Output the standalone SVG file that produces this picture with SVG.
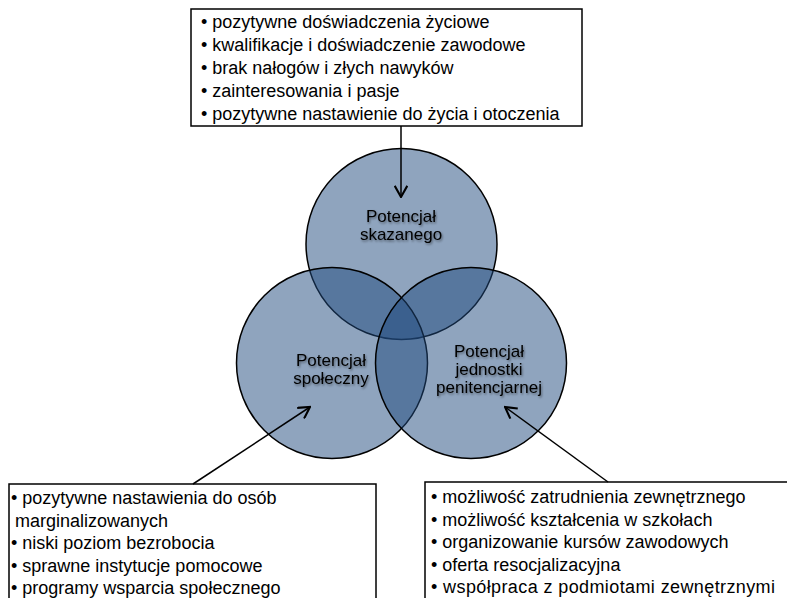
<svg xmlns="http://www.w3.org/2000/svg" width="787" height="598" viewBox="0 0 787 598">
<defs>
<style>
.circ{fill:#1F497D;fill-opacity:0.5;stroke:#000;stroke-width:1.5}
.box{fill:#fff;stroke:#000;stroke-width:1.5}
.t{font-family:"Liberation Sans",Arial,sans-serif;font-size:18px;fill:#000}
.lbl{font-family:"Liberation Sans",Arial,sans-serif;font-size:17px;fill:#000;text-anchor:middle;filter:url(#sh)}
.con{stroke:#000;stroke-width:1.5;fill:none;marker-end:url(#ah)}
</style>
<filter id="sh" x="-20%" y="-40%" width="140%" height="180%">
<feDropShadow dx="1" dy="1.5" stdDeviation="0.8" flood-color="#000" flood-opacity="0.45"/>
</filter>
<marker id="ah" markerUnits="userSpaceOnUse" markerWidth="14" markerHeight="14" refX="9" refY="5" orient="auto" viewBox="0 0 10 10">
<path d="M1,0.5 L9,5 L1,9.5" fill="none" stroke="#000" stroke-width="1.5"/>
</marker>
</defs>
<rect width="787" height="598" fill="#fff"/>
<g id="circle-skazanego">
<circle class="circ" cx="401.5" cy="244" r="95.5"/>
</g>
<g id="circle-spoleczny">
<circle class="circ" cx="332" cy="363" r="95.5"/>
</g>
<g id="circle-penitencjarny">
<circle class="circ" cx="471" cy="363" r="95.5"/>
</g>
<g id="label-skazanego">
<text class="lbl" x="401" y="222">Potencjał</text>
<text class="lbl" x="401" y="240">skazanego</text>
</g>
<g id="label-spoleczny">
<text class="lbl" x="331" y="366">Potencjał</text>
<text class="lbl" x="331" y="384">społeczny</text>
</g>
<g id="label-penitencjarny">
<text class="lbl" x="489" y="357">Potencjał</text>
<text class="lbl" x="489" y="375">jednostki</text>
<text class="lbl" x="489" y="393">penitencjarnej</text>
</g>
<g id="box-top">
<rect class="box" x="191" y="9" width="391" height="117"/>
<text class="t" x="201" y="28">• pozytywne doświadczenia życiowe</text>
<text class="t" x="201" y="51">• kwalifikacje i doświadczenie zawodowe</text>
<text class="t" x="201" y="74">• brak nałogów i złych nawyków</text>
<text class="t" x="201" y="97">• zainteresowania i pasje</text>
<text class="t" x="201" y="120">• pozytywne nastawienie do życia i otoczenia</text>
</g>
<g id="box-left">
<rect class="box" x="9" y="484" width="367" height="130"/>
<text class="t" x="11" y="504">• pozytywne nastawienia do osób</text>
<text class="t" x="15" y="526.5">marginalizowanych</text>
<text class="t" x="11" y="549">• niski poziom bezrobocia</text>
<text class="t" x="11" y="571.5">• sprawne instytucje pomocowe</text>
<text class="t" x="11" y="594">• programy wsparcia społecznego</text>
</g>
<g id="box-right">
<rect class="box" x="425" y="482" width="370" height="130"/>
<text class="t" x="431" y="503">• możliwość zatrudnienia zewnętrznego</text>
<text class="t" x="431" y="525.5">• możliwość kształcenia w szkołach</text>
<text class="t" x="431" y="548">• organizowanie kursów zawodowych</text>
<text class="t" x="431" y="570.5">• oferta resocjalizacyjna</text>
<text class="t" x="431" y="593" textLength="344" lengthAdjust="spacing">• współpraca z podmiotami zewnętrznymi</text>
</g>
<g id="connectors">
<line class="con" x1="401" y1="126" x2="401" y2="197"/>
<line class="con" x1="193" y1="484" x2="310" y2="407"/>
<line class="con" x1="608" y1="482" x2="505" y2="407"/>
</g>
</svg>
